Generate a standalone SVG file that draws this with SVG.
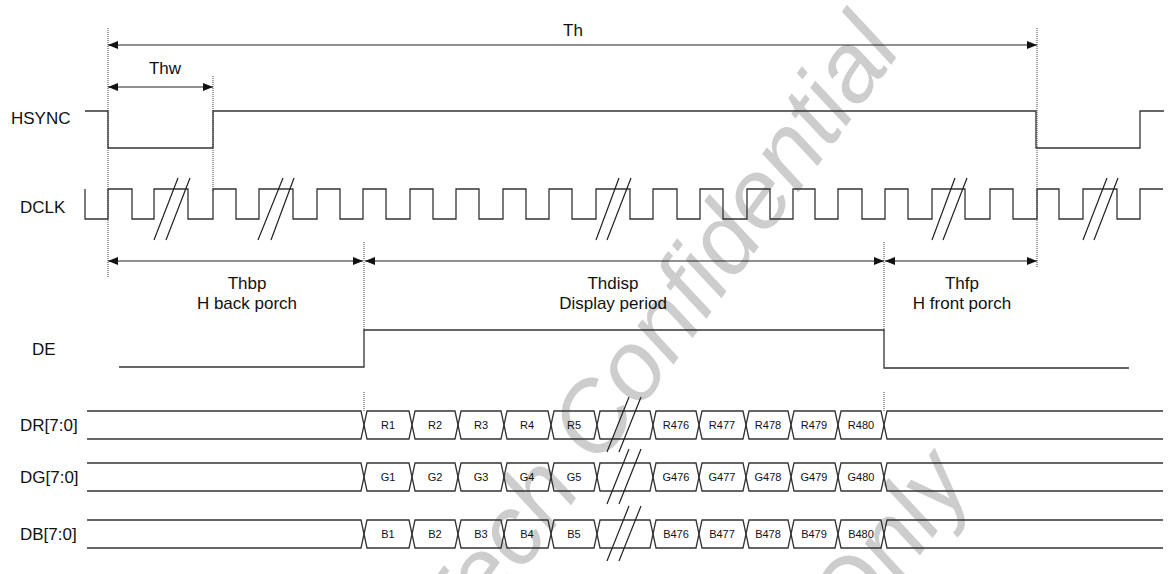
<svg xmlns="http://www.w3.org/2000/svg" width="1176" height="574" viewBox="0 0 1176 574">
<style>
.sig{fill:none;stroke:#333;stroke-width:1.3}
.dot{fill:none;stroke:#444;stroke-width:1;stroke-dasharray:1 1}
.dim{fill:none;stroke:#222;stroke-width:1.2}
.lbl{font-family:"Liberation Sans",Arial,sans-serif;font-size:17px;fill:#111}
.ann{font-family:"Liberation Sans",Arial,sans-serif;font-size:17px;fill:#111;text-anchor:middle}
.cell{font-family:"Liberation Sans",Arial,sans-serif;font-size:11px;fill:#111;text-anchor:middle}
.wm{font-family:"Liberation Sans",Arial,sans-serif;font-size:98px;font-style:italic;fill:#cdcdcd}
.brk{fill:none;stroke:#222;stroke-width:1.2}
</style>
<defs>
<marker id="ah" viewBox="0 0 10 8" refX="10" refY="4" markerWidth="10" markerHeight="8" orient="auto-start-reverse" markerUnits="userSpaceOnUse">
<path d="M0,0 L10,4 L0,8 Z" fill="#111"/>
</marker>
<g id="bus">
<path class="sig" d="M87,0 H361 L364,14 L361,28 H87"/>
<path class="sig" d="M364,14 L367,0 H409 L412,14 L409,28 H367 Z"/>
<path class="sig" d="M412,14 L415,0 H455 L458,14 L455,28 H415 Z"/>
<path class="sig" d="M458,14 L461,0 H501 L504,14 L501,28 H461 Z"/>
<path class="sig" d="M504,14 L507,0 H548 L551,14 L548,28 H507 Z"/>
<path class="sig" d="M551,14 L554,0 H594 L597,14 L594,28 H554 Z"/>
<path class="sig" d="M597,14 L600,0 H650 L653,14 L650,28 H600 Z"/>
<path class="sig" d="M653,14 L656,0 H696 L699,14 L696,28 H656 Z"/>
<path class="sig" d="M699,14 L702,0 H743 L746,14 L743,28 H702 Z"/>
<path class="sig" d="M746,14 L749,0 H788 L791,14 L788,28 H749 Z"/>
<path class="sig" d="M791,14 L794,0 H835 L838,14 L835,28 H794 Z"/>
<path class="sig" d="M838,14 L841,0 H881 L884,14 L881,28 H841 Z"/>
<path class="sig" d="M1163,0 H887 L884,14 L887,28 H1163"/>
<path class="brk" d="M607,41 L629,-14 M619,41 L641,-14"/>
</g>
</defs>

<g id="watermark">
<text class="wm" transform="translate(460,658) rotate(-54)">Tech Confidential</text>
<text class="wm" transform="translate(855,645) rotate(-54)">Only</text>
</g>

<g id="labels">
<text class="lbl" x="11" y="124">HSYNC</text>
<text class="lbl" x="20" y="213">DCLK</text>
<text class="lbl" x="32" y="355">DE</text>
<text class="lbl" x="20" y="431">DR[7:0]</text>
<text class="lbl" x="20" y="483">DG[7:0]</text>
<text class="lbl" x="20" y="540">DB[7:0]</text>
</g>

<g id="guides">
<line class="dot" x1="108" y1="28" x2="108" y2="277"/>
<line class="dot" x1="213" y1="76" x2="213" y2="192"/>
<line class="dot" x1="364" y1="242" x2="364" y2="332"/>
<line class="dot" x1="364" y1="392" x2="364" y2="412"/>
<line class="dot" x1="884" y1="242" x2="884" y2="332"/>
<line class="dot" x1="884" y1="392" x2="884" y2="412"/>
<line class="dot" x1="1037" y1="28" x2="1037" y2="268"/>
</g>

<g id="connectors">
<line class="dim" x1="108" y1="45" x2="1037" y2="45" marker-start="url(#ah)" marker-end="url(#ah)"/>
<line class="dim" x1="108" y1="87" x2="213" y2="87" marker-start="url(#ah)" marker-end="url(#ah)"/>
<line class="dim" x1="108" y1="261" x2="363" y2="261" marker-start="url(#ah)" marker-end="url(#ah)"/>
<line class="dim" x1="365" y1="261" x2="884" y2="261" marker-start="url(#ah)" marker-end="url(#ah)"/>
<line class="dim" x1="885" y1="261" x2="1037" y2="261" marker-start="url(#ah)" marker-end="url(#ah)"/>
</g>

<g id="annotations">
<text class="ann" x="573" y="36">Th</text>
<text class="ann" x="165" y="74">Thw</text>
<text class="ann" x="247" y="289">Thbp</text>
<text class="ann" x="247" y="309">H back porch</text>
<text class="ann" x="613" y="289">Thdisp</text>
<text class="ann" x="613" y="309">Display period</text>
<text class="ann" x="962" y="289">Thfp</text>
<text class="ann" x="962" y="309">H front porch</text>
</g>

<g id="hsync">
<path class="sig" d="M85,111 H108 V148 H213 V111 H1036 V148 H1140 V111 H1164"/>
</g>

<g id="dclk">
<path class="sig" d="M85,189 V219 H108 V189 H132 V219 H154 V189 H188 V219 H213 V189 H236 V219 H259 V189 H293 V219 H317 V189 H340 V219 H363 V189 H386 V219 H410 V189 H433 V219 H456 V189 H479 V219 H503 V189 H526 V219 H549 V189 H572 V219 H596 V189 H630 V219 H653 V189 H677 V219 H700 V189 H723 V219 H747 V189 H770 V219 H793 V189 H815 V219 H838 V189 H862 V219 H885 V189 H908 V219 H932 V189 H965 V219 H990 V189 H1013 V219 H1037 V189 H1059 V219 H1083 V189 H1117 V219 H1140 V189 H1163"/>
<path class="brk" d="M154,240 L178,178 M166,240 L190,178 M258,240 L283,178 M271,240 L294,178 M596,240 L619,178 M607,240 L631,178 M932,240 L955,178 M943,240 L967,178 M1083,240 L1107,178 M1094,240 L1118,178"/>
</g>

<g id="de">
<path class="sig" d="M119,367 H364 V330 H884 V368 H1129"/>
</g>

<g id="dr">
<use href="#bus" y="411"/>
<text class="cell" x="388" y="429">R1</text>
<text class="cell" x="435" y="429">R2</text>
<text class="cell" x="481" y="429">R3</text>
<text class="cell" x="527" y="429">R4</text>
<text class="cell" x="574" y="429">R5</text>
<text class="cell" x="676" y="429">R476</text>
<text class="cell" x="722" y="429">R477</text>
<text class="cell" x="768" y="429">R478</text>
<text class="cell" x="814" y="429">R479</text>
<text class="cell" x="861" y="429">R480</text>
</g>
<g id="dg">
<use href="#bus" y="463"/>
<text class="cell" x="388" y="481">G1</text>
<text class="cell" x="435" y="481">G2</text>
<text class="cell" x="481" y="481">G3</text>
<text class="cell" x="527" y="481">G4</text>
<text class="cell" x="574" y="481">G5</text>
<text class="cell" x="676" y="481">G476</text>
<text class="cell" x="722" y="481">G477</text>
<text class="cell" x="768" y="481">G478</text>
<text class="cell" x="814" y="481">G479</text>
<text class="cell" x="861" y="481">G480</text>
</g>
<g id="db">
<use href="#bus" y="520"/>
<text class="cell" x="388" y="538">B1</text>
<text class="cell" x="435" y="538">B2</text>
<text class="cell" x="481" y="538">B3</text>
<text class="cell" x="527" y="538">B4</text>
<text class="cell" x="574" y="538">B5</text>
<text class="cell" x="676" y="538">B476</text>
<text class="cell" x="722" y="538">B477</text>
<text class="cell" x="768" y="538">B478</text>
<text class="cell" x="814" y="538">B479</text>
<text class="cell" x="861" y="538">B480</text>
</g>
</svg>
